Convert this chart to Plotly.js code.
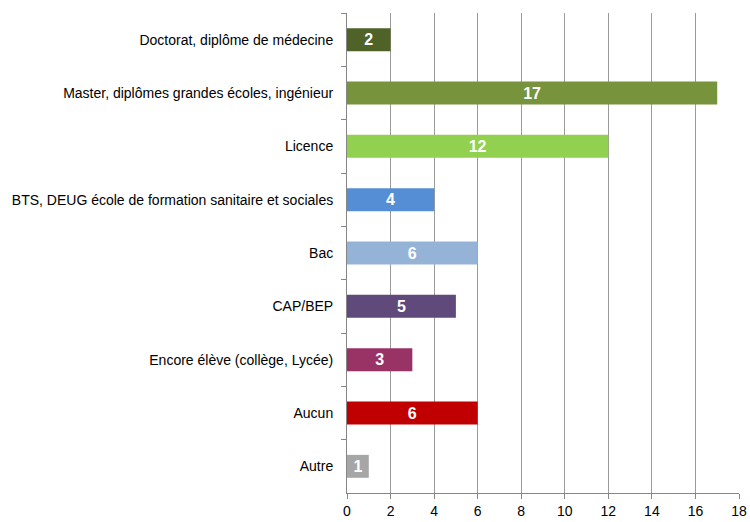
<!DOCTYPE html>
<html>
<head>
<meta charset="utf-8">
<script src="https://cdn.plot.ly/plotly-3.0.1.min.js"></script>
<style>
  html, body { margin: 0; padding: 0; background: #fff; }
  #chart { width: 750px; height: 522px; }
</style>
</head>
<body>
<div id="chart"></div>
<script>
// Niveau de diplôme — effectifs
const categories = [
  "Doctorat, diplôme de médecine",
  "Master, diplômes grandes écoles, ingénieur",
  "Licence",
  "BTS, DEUG école de formation sanitaire et sociales",
  "Bac",
  "CAP/BEP",
  "Encore élève (collège, Lycée)",
  "Aucun",
  "Autre",
];
const values = [2, 17, 12, 4, 6, 5, 3, 6, 1];
const barColors = [
  "#4f6228", "#77933c", "#92d050", "#558ed5", "#95b3d7",
  "#604a7b", "#993366", "#c00000", "#a6a6a6",
];
const xTicks = [0, 2, 4, 6, 8, 10, 12, 14, 16, 18];

const FONT = "'Liberation Sans', Arial, sans-serif";

const bars = {
  type: "bar",
  orientation: "h",
  y: categories,
  x: values,
  width: 0.43,
  marker: { color: barColors },
  text: values.map(String),
  textposition: "inside",
  insidetextanchor: "middle",
  textangle: 0,
  textfont: { color: "#ffffff", size: 16, family: FONT, weight: "bold" },
  constraintext: "none",
  hoverinfo: "none",
};

Plotly.newPlot("chart", [bars], {
  width: 750,
  height: 522,
  paper_bgcolor: "#ffffff",
  plot_bgcolor: "#ffffff",
  font: { family: FONT, size: 14, color: "#000000" },
  margin: { t: 13, r: 11, b: 29, l: 347 },
  showlegend: false,
  xaxis: {
    range: [0, 18],
    tickvals: xTicks,
    ticktext: xTicks.map(String),
    showgrid: true,
    gridcolor: "#9a9a9a",
    gridwidth: 1,
    zeroline: false,
    showline: true,
    linecolor: "#868686",
    ticks: "outside",
    ticklen: 5,
    tickcolor: "#868686",
    tickfont: { size: 14 },
    fixedrange: true,
  },
  yaxis: {
    type: "category",
    autorange: "reversed",
    showgrid: false,
    zeroline: false,
    showline: true,
    linecolor: "#868686",
    ticks: "outside",
    tickson: "boundaries",
    ticklen: 5,
    tickcolor: "#868686",
    tickfont: { size: 14 },
    ticklabelstandoff: 10,
    fixedrange: true,
  },
}, { displayModeBar: false, staticPlot: true });
</script>
</body>
</html>
